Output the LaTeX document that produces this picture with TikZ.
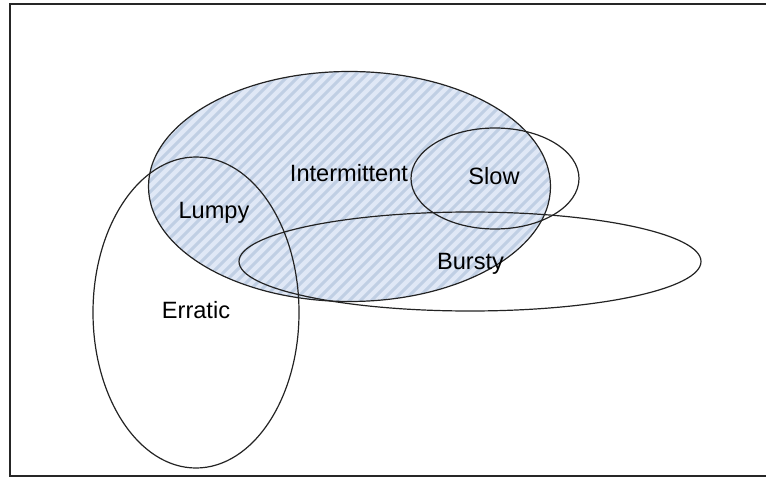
\documentclass[tikz,border=0pt]{standalone}
\usepackage{fontspec}
\setmainfont{Liberation Sans}
\definecolor{setfill}{RGB}{224,232,246}
\definecolor{sethatch}{RGB}{192,207,228}
\definecolor{setline}{RGB}{35,35,35}

\begin{document}
\begin{tikzpicture}[x=0.75pt, y=-0.75pt]
  \tikzstyle{set} = [draw=setline, line width=0.9pt]
  \tikzstyle{hatch} = [draw=sethatch, line width=2.2pt]
  \tikzstyle{lbl} = [anchor=base, inner sep=0pt, font=\fontsize{17.7}{20}\selectfont]
  \tikzstyle{frame} = [draw=black!85, line width=1.5pt]

  \useasboundingbox (0,0) rectangle (766,477);
  \draw[frame] (767,4) -| (10,476) -- (767,476);

  % shaded intermittent set
  \fill[setfill] (349.5,186.5) ellipse [x radius=201, y radius=115];
  \begin{scope}
    \clip (349.5,186.5) ellipse [x radius=201, y radius=115];
    \foreach \s in {-12,...,50}
      \draw[hatch] (\s*11,320) -- ++(300,-300);
  \end{scope}

  % outlines
  \draw[set] (349.5,186.5) ellipse [x radius=201, y radius=115];
  \draw[set] (495,178.5) ellipse [x radius=84, y radius=50.5];
  \draw[set] (470,261.5) ellipse [x radius=231, y radius=49.5];
  \draw[set] (196,312.5) ellipse [x radius=103, y radius=155.5];

  \node[lbl] (intermittent) at (349,182) {Intermittent};
  \node[lbl] (slow) at (494,185) {Slow};
  \node[lbl] (lumpy) at (214,219) {Lumpy};
  \node[lbl] (bursty) at (470.5,269) {Bursty};
  \node[lbl] (erratic) at (196,318) {Erratic};
\end{tikzpicture}
\end{document}
